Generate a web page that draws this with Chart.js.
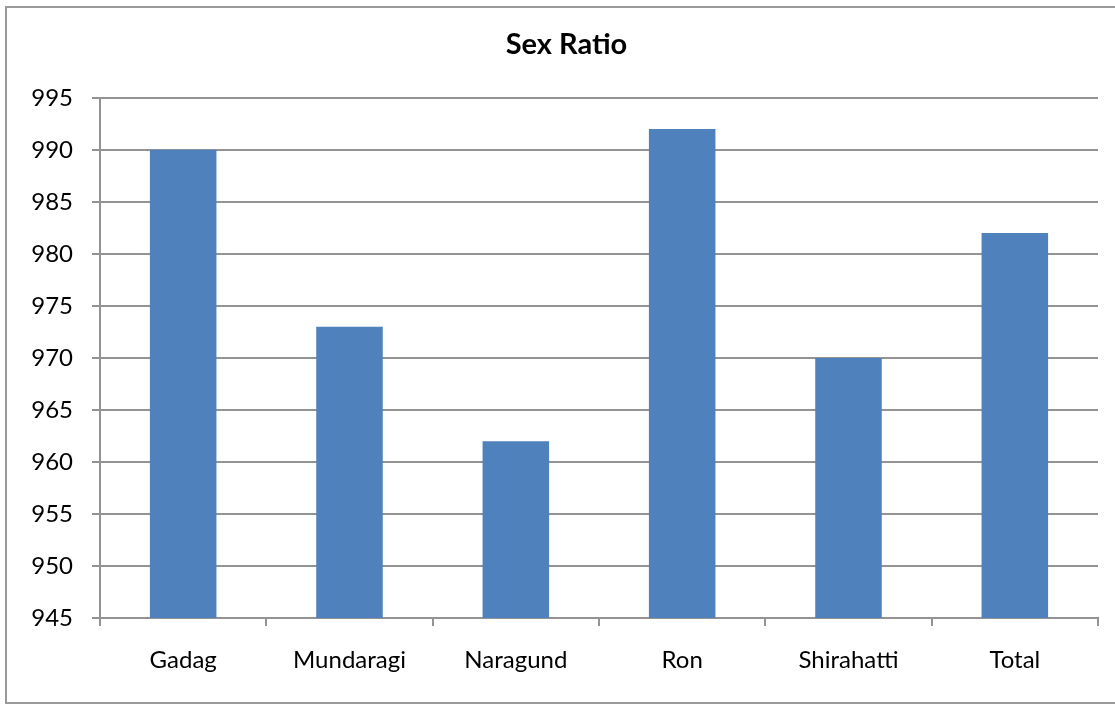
<!DOCTYPE html>
<html>
<head>
<meta charset="utf-8">
<script src="https://cdn.jsdelivr.net/npm/chart.js@4.4.1/dist/chart.umd.min.js"></script>
<style>
  html, body { margin: 0; padding: 0; background: #ffffff; }
  #wrap { position: relative; width: 1115px; height: 704px; }
</style>
</head>
<body>
<div id="wrap"><canvas id="chart" width="1115" height="704"></canvas></div>
<script>
// Sex ratio (females per 1000 males) by taluk
const categories = ['Gadag', 'Mundaragi', 'Naragund', 'Ron', 'Shirahatti', 'Total'];
const sexRatio = [990, 973, 962, 992, 970, 982];
const axisMin = 945;
const axisMax = 995;
const axisStep = 5;
const chartTitle = 'Sex Ratio';

const fontFamily = 'Lato, "Open Sans", "Liberation Sans", sans-serif';
const gridGray = '#939393';

// Thin grey frame around the whole chart; the title is centred a little right of the canvas middle
const framePlugin = {
  id: 'frame',
  afterLayout(chart) {
    if (chart.titleBlock) {
      chart.titleBlock.left = 35;
    }
  },
  beforeDraw(chart) {
    const ctx = chart.ctx;
    ctx.save();
    ctx.fillStyle = '#ffffff';
    ctx.fillRect(0, 0, chart.width, chart.height);
    ctx.strokeStyle = '#9a9a9a';
    ctx.lineWidth = 2;
    ctx.strokeRect(6, 7, chart.width + 10, 696);
    ctx.restore();
  }
};

new Chart(document.getElementById('chart'), {
  type: 'bar',
  data: {
    labels: categories,
    datasets: [{
      label: chartTitle,
      data: sexRatio,
      backgroundColor: '#4F81BD',
      borderWidth: 0,
      categoryPercentage: 1.0,
      barPercentage: 0.4
    }]
  },
  options: {
    responsive: false,
    animation: false,
    layout: { padding: { left: 0, right: 17, top: 0, bottom: 0 } },
    plugins: {
      legend: { display: false },
      tooltip: { enabled: false },
      title: {
        display: true,
        text: chartTitle,
        color: '#000000',
        font: { family: fontFamily, size: 29, weight: 'bold' },
        padding: { top: 27, bottom: 36 }
      }
    },
    scales: {
      x: {
        offset: true,
        grid: {
          display: true,
          drawOnChartArea: false,
          drawTicks: true,
          tickLength: 8,
          lineWidth: 2,
          color: gridGray,
          offset: true
        },
        border: { display: true, color: gridGray, width: 2 },
        ticks: {
          color: '#000000',
          font: { family: fontFamily, size: 24 },
          padding: 20,
          maxRotation: 0,
          autoSkip: false
        },
        afterFit(scale) { scale.height = 86; }
      },
      y: {
        min: axisMin,
        max: axisMax,
        grid: {
          color: gridGray,
          lineWidth: 2,
          tickLength: 8,
          drawTicks: true
        },
        border: { display: true, color: gridGray, width: 2 },
        ticks: {
          stepSize: axisStep,
          color: '#000000',
          font: { family: fontFamily, size: 24 },
          padding: 19
        },
        afterFit(scale) { scale.width = 100; }
      }
    }
  },
  plugins: [framePlugin]
});
</script>
</body>
</html>
